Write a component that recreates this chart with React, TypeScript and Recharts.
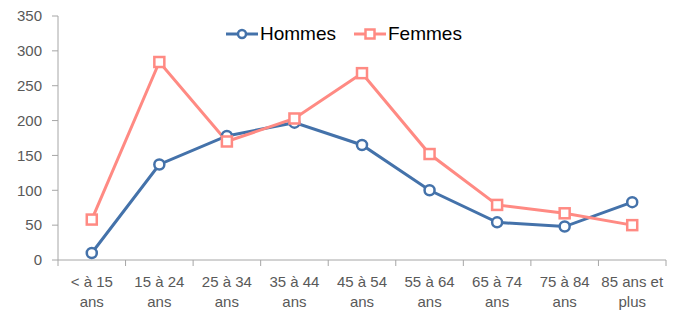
import { LineChart, Line, XAxis, YAxis, Legend } from "recharts";

const categories = ["< à 15 ans", "15 à 24 ans", "25 à 34 ans", "35 à 44 ans", "45 à 54 ans", "55 à 64 ans", "65 à 74 ans", "75 à 84 ans", "85 ans et plus"];
const hommes = [10, 137, 178, 197, 165, 100, 54, 48, 83];
const femmes = [58, 284, 170, 203, 268, 152, 79, 67, 50];
const yTicks = [0, 50, 100, 150, 200, 250, 300, 350];
const boundaries = [0, 1, 2, 3, 4, 5, 6, 7, 8, 9];

const BLUE = "#4472AA";
const PINK = "#FF8A83";
const AXIS = "#A6A6A6";
const TEXT = "#595959";
const FONT = "'Liberation Sans', Arial, sans-serif";

const data = categories.map((name, i) => ({ name, idx: i + 0.5, Hommes: hommes[i], Femmes: femmes[i] }));

const CircleDot = ({ cx, cy }: any) => (
  <circle cx={cx} cy={cy} r={5} fill="#fff" stroke={BLUE} strokeWidth={2.5} />
);

const SquareDot = ({ cx, cy }: any) => (
  <rect x={cx - 5} y={cy - 5} width={10} height={10} fill="#fff" stroke={PINK} strokeWidth={2.5} />
);

const EmptyTick = () => <g />;

const CatTick = ({ x, y, payload }: any) => {
  const label: string = categories[Math.round(payload.value - 0.5)] ?? "";
  const cut = label.lastIndexOf(" ");
  return (
    <text x={x} y={y} textAnchor="middle" fill={TEXT} fontSize={15} fontFamily={FONT}>
      <tspan x={x} dy={0}>{label.slice(0, cut)}</tspan>
      <tspan x={x} dy={20}>{label.slice(cut + 1)}</tspan>
    </text>
  );
};

const LegendContent = () => (
  <div style={{ display: "flex", alignItems: "center", fontFamily: FONT, fontSize: 19, color: "#000" }}>
    <svg width={32} height={12}>
      <line x1={0} y1={6} x2={32} y2={6} stroke={BLUE} strokeWidth={3} />
      <circle cx={16} cy={6} r={4} fill="#fff" stroke={BLUE} strokeWidth={2.5} />
    </svg>
    <span style={{ marginLeft: 2, marginRight: 18 }}>Hommes</span>
    <svg width={32} height={12}>
      <line x1={0} y1={6} x2={32} y2={6} stroke={PINK} strokeWidth={3} />
      <rect x={11.5} y={1.5} width={9} height={9} fill="#fff" stroke={PINK} strokeWidth={2.5} />
    </svg>
    <span style={{ marginLeft: 2 }}>Femmes</span>
  </div>
);

export default function App() {
  return (
    <div style={{ position: "absolute", top: 0, left: 0, width: 680, height: 311, background: "#fff" }}>
      <LineChart width={680} height={311} data={data} margin={{ top: 16, right: 14, left: 0, bottom: 0 }}>
        <XAxis
          dataKey="idx"
          type="number"
          domain={[0, 9]}
          ticks={boundaries}
          interval={0}
          tick={<EmptyTick />}
          tickSize={6}
          axisLine={{ stroke: AXIS }}
          tickLine={{ stroke: AXIS }}
          height={6}
        />
        <XAxis
          xAxisId="lab"
          dataKey="idx"
          type="number"
          domain={[0, 9]}
          ticks={data.map((d) => d.idx)}
          interval={0}
          tick={<CatTick />}
          axisLine={false}
          tickLine={false}
          tickSize={0}
          tickMargin={21}
          height={45}
        />
        <YAxis
          domain={[0, 350]}
          ticks={yTicks}
          width={58}
          stroke={AXIS}
          tickSize={6}
          tickMargin={10}
          tick={{ fill: TEXT, fontSize: 15, fontFamily: FONT }}
        />
        <Legend verticalAlign="middle" align="center" layout="horizontal" content={<LegendContent />} wrapperStyle={{ top: 23, left: 226, width: "auto" }} />
        <Line dataKey="Hommes" stroke={BLUE} strokeWidth={3} dot={<CircleDot />} isAnimationActive={false} />
        <Line dataKey="Femmes" stroke={PINK} strokeWidth={3} dot={<SquareDot />} isAnimationActive={false} />
      </LineChart>
    </div>
  );
}
